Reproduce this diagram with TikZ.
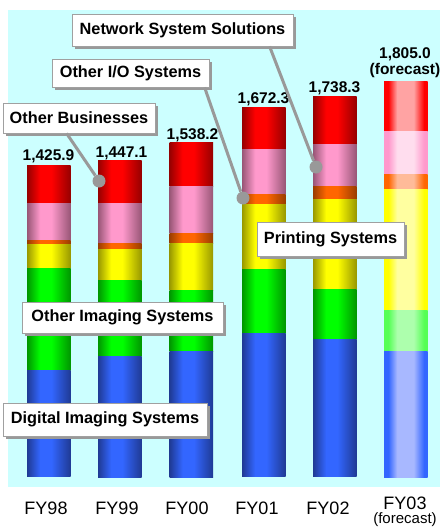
\documentclass[tikz,border=0pt]{standalone}
\usepackage{fontspec}
\setmainfont{Liberation Sans}
\usetikzlibrary{calc,shadows}
% normal bar colours
\definecolor{rD}{HTML}{960000}\definecolor{rB}{HTML}{FF0000}
\definecolor{pD}{HTML}{985676}\definecolor{pB}{HTML}{FF99CC}
\definecolor{oD}{HTML}{993D00}\definecolor{oB}{HTML}{FF6600}
\definecolor{yD}{HTML}{989800}\definecolor{yB}{HTML}{FFFF00}
\definecolor{gD}{HTML}{009600}\definecolor{gB}{HTML}{00FF00}
\definecolor{bD}{HTML}{1F3A94}\definecolor{bB}{HTML}{3366FF}
% forecast colours
\definecolor{frE}{HTML}{FF0000}\definecolor{frC}{HTML}{FFA3A3}
\definecolor{fpE}{HTML}{FF99CC}\definecolor{fpC}{HTML}{FFDDEE}
\definecolor{foE}{HTML}{FF6600}\definecolor{foC}{HTML}{FFBB99}
\definecolor{fyE}{HTML}{FFFF00}\definecolor{fyC}{HTML}{FFFFA0}
\definecolor{fgE}{HTML}{55FF55}\definecolor{fgC}{HTML}{ADFFAD}
\definecolor{fbE}{HTML}{3366FF}\definecolor{fbC}{HTML}{A8B8FF}
\definecolor{bgc}{HTML}{CCFFFF}
\definecolor{linegray}{HTML}{999999}
\definecolor{boxline}{HTML}{A0A0A0}
\definecolor{shadowgray}{HTML}{999999}
\newcommand\mkshade[3]{%
  \pgfdeclarehorizontalshading{#1}{100bp}{color(0bp)=(#2); color(25bp)=(#2); color(40bp)=(#3); color(53bp)=(#3); color(75bp)=(#2); color(100bp)=(#2)}}
\newcommand\mkfshade[3]{%
  \pgfdeclarehorizontalshading{#1}{100bp}{color(0bp)=(#2); color(30bp)=(#2); color(40bp)=(#3); color(59bp)=(#3); color(71bp)=(#2); color(100bp)=(#2)}}
\mkshade{nR}{rD}{rB}\mkshade{nP}{pD}{pB}\mkshade{nO}{oD}{oB}
\mkshade{nY}{yD}{yB}\mkshade{nG}{gD}{gB}\mkshade{nB}{bD}{bB}
\mkfshade{fR}{frE}{frC}\mkfshade{fP}{fpE}{fpC}\mkfshade{fO}{foE}{foC}
\mkfshade{fY}{fyE}{fyC}\mkfshade{fG}{fgE}{fgC}\mkfshade{fB}{fbE}{fbC}
\newcommand\drawbar[9]{%
  \path[shading=#1R] (#2,#3) rectangle (#2+43.5,#4);
  \path[shading=#1P] (#2,#4) rectangle (#2+43.5,#5);
  \path[shading=#1O] (#2,#5) rectangle (#2+43.5,#6);
  \path[shading=#1Y] (#2,#6) rectangle (#2+43.5,#7);
  \path[shading=#1G] (#2,#7) rectangle (#2+43.5,#8);
  \path[shading=#1B] (#2,#8) rectangle (#2+43.5,#9);}
\begin{document}
\begin{tikzpicture}[x=1pt,y=-1pt,
  lbl/.style={draw=boxline, fill=white, line width=0.8pt, inner sep=0pt,
    font=\bfseries\fontsize{16.3}{18}\selectfont,
    drop shadow={shadow xshift=3pt, shadow yshift=-3pt, fill=shadowgray, opacity=1}},
  val/.style={font=\bfseries\fontsize{15.5}{16}\selectfont, inner sep=0pt, align=center},
  fy/.style={font=\fontsize{18}{18}\selectfont, inner sep=0pt},
  conn/.style={draw=linegray, line width=3pt},
  dot/.style={circle, fill=linegray, minimum size=13pt, inner sep=0pt}]
\fill[white] (0,0) rectangle (440,530);
\useasboundingbox (0,0) rectangle (440,530);
\fill[bgc] (8,10) rectangle (440,487);
% bars
\drawbar{n}{27}{165}{203}{240}{244}{268}{370}{476}
\drawbar{n}{98}{160}{203}{243}{249}{280}{356}{477}
\drawbar{n}{169.5}{142}{186}{233}{243}{290}{351}{477}
\drawbar{n}{242}{107}{149}{194}{204}{269}{333}{476}
\drawbar{n}{313}{96}{144}{186}{199}{289}{339}{476}
\drawbar{f}{384}{81}{131}{174}{189}{310}{351}{477}
% value labels
\node[val] (v98) at (48.5,156.5) {1,425.9};
\node[val] (v99) at (121.5,153) {1,447.1};
\node[val] (v00) at (192.5,135) {1,538.2};
\node[val] (v01) at (263.5,99) {1,672.3};
\node[val] (v02) at (334.5,88.5) {1,738.3};
\node[val] (v03) at (405,63) {1,805.0\\(forecast)};
% year labels
\node[fy] (y98) at (46,508) {FY98};
\node[fy] (y99) at (117,508) {FY99};
\node[fy] (y00) at (187,508) {FY00};
\node[fy] (y01) at (257,508) {FY01};
\node[fy] (y02) at (328,508) {FY02};
\node[fy] (y03) at (405,503) {FY03};
\node[font=\fontsize{15}{15}\selectfont, inner sep=0pt] (y03f) at (405,520) {(forecast)};
% label boxes
\node[lbl, minimum width=221pt, minimum height=32pt] (nss) at (182.5,30) {Network System Solutions};
\node[lbl, minimum width=157pt, minimum height=28pt] (oio) at (130.5,73) {Other I/O Systems};
\node[lbl, minimum width=152pt, minimum height=30pt] (ob) at (79,118) {Other Businesses};
\node[lbl, minimum width=147pt, minimum height=34pt] (ps) at (330.5,239) {Printing Systems};
\node[lbl, minimum width=201pt, minimum height=31pt] (ois) at (122.5,317.5) {Other Imaging Systems};
\node[lbl, minimum width=204pt, minimum height=33pt] (dis) at (105,419.5) {Digital Imaging Systems};
% connectors
\node[dot] (dn) at (316,167) {};
\node[dot] (dio) at (243,198) {};
\node[dot] (db) at (99,181) {};
\draw[conn] ($(nss.south west)+(198,0)$) -- (dn);
\draw[conn] ($(oio.south west)+(153,0)$) -- (dio);
\draw[conn] ($(ob.south west)+(64,0)$) -- (db);
\end{tikzpicture}
\end{document}
